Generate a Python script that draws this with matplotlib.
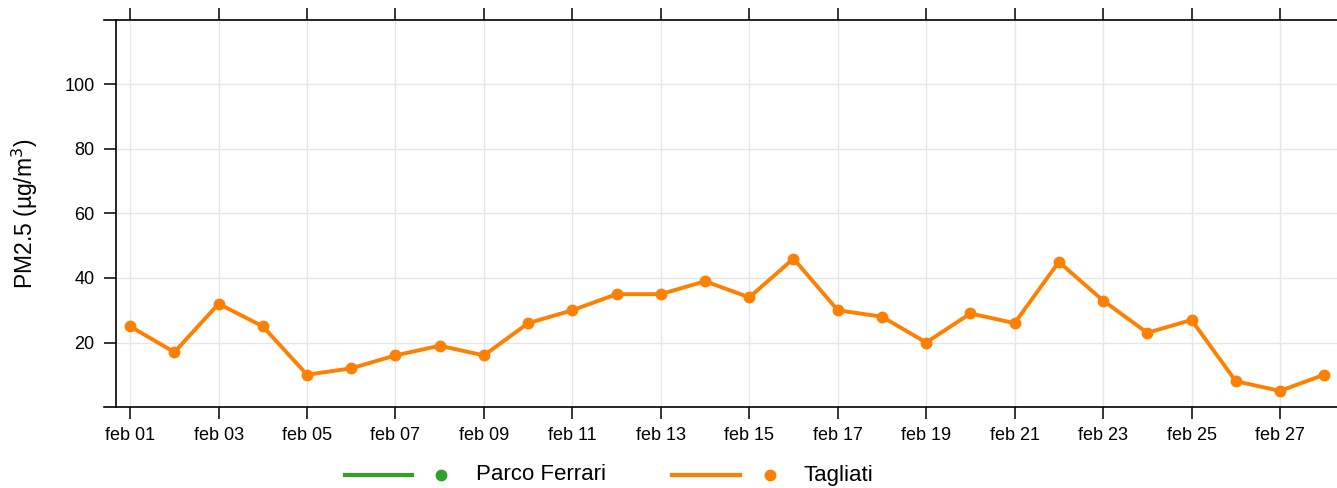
import matplotlib
matplotlib.use('Agg')
import numpy as np
import matplotlib.pyplot as plt
from matplotlib.lines import Line2D

plt.rcParams['font.family'] = ['Liberation Sans', 'DejaVu Sans']

# dati
giorni = list(range(1, 29))
tagliati = [25, 17, 32, 25, 10, 12, 16, 19, 16, 26, 30, 35, 35, 39, 34, 46,
            30, 28, 20, 29, 26, 45, 33, 23, 27, 8, 5, 10]
stazioni = ['Parco Ferrari', 'Tagliati']
colori = ['#33A02C', '#FF7F00']
tick_giorni = list(range(1, 29, 2))
tick_etichette = ['feb %02d' % g for g in tick_giorni]
y_ticks = [20, 40, 60, 80, 100]

W, H = 1337, 488
fig = plt.figure(figsize=(W / 100, H / 100), dpi=100)
ax = fig.add_axes([116 / W, (H - 407) / H, 1 - 116 / W, (407 - 20) / H])

ax.plot(giorni, tagliati, color=colori[1], lw=2.8, marker='o', ms=7.5,
        solid_joinstyle='round')

ax.set_xlim(1 - 0.32, 28.29)
ax.set_ylim(0, 120)
ax.set_xticks(tick_giorni)
ax.set_xticklabels(tick_etichette)
ax.set_yticks(y_ticks)
ax.grid(True, color='#E6E6E6', lw=1)
ax.set_axisbelow(True)

for s in ['top', 'bottom', 'right']:
    ax.spines[s].set_visible(False)
ax.spines['left'].set_linewidth(1.2)
# linee orizzontali sopra e sotto, estese oltre l'asse sinistro
for yy in (0, 1):
    ax.plot([-12 / (W - 116), 1], [yy, yy], transform=ax.transAxes,
            color='black', lw=1.2, clip_on=False)

ax.tick_params(axis='both', direction='out', length=8.5, width=1.1,
               labelsize=13, colors='black')
ax.tick_params(axis='x', top=True, labeltop=False, pad=6)
ax.tick_params(axis='y', pad=7)

ax.set_ylabel('PM2.5 (µg/m$^3$)', fontsize=16.5)
ax.yaxis.set_label_coords(-(116 - 40) / (W - 116), 0.5)

# legenda in basso, disegnata a mano
ly = 1 - 475 / H
pos = [(345, 412, 441, 476), (672, 740, 770, 803)]
for nome, col, (x0, x1, xd, xt) in zip(stazioni, colori, pos):
    fig.add_artist(Line2D([x0 / W, x1 / W], [ly, ly], color=col, lw=3,
                          transform=fig.transFigure))
    fig.add_artist(Line2D([xd / W], [ly], color=col, marker='o', ms=7.5,
                          lw=0, transform=fig.transFigure))
    fig.text(xt / W, ly, nome, fontsize=16, va='center', ha='left')

fig.savefig('out.png', dpi=100)
